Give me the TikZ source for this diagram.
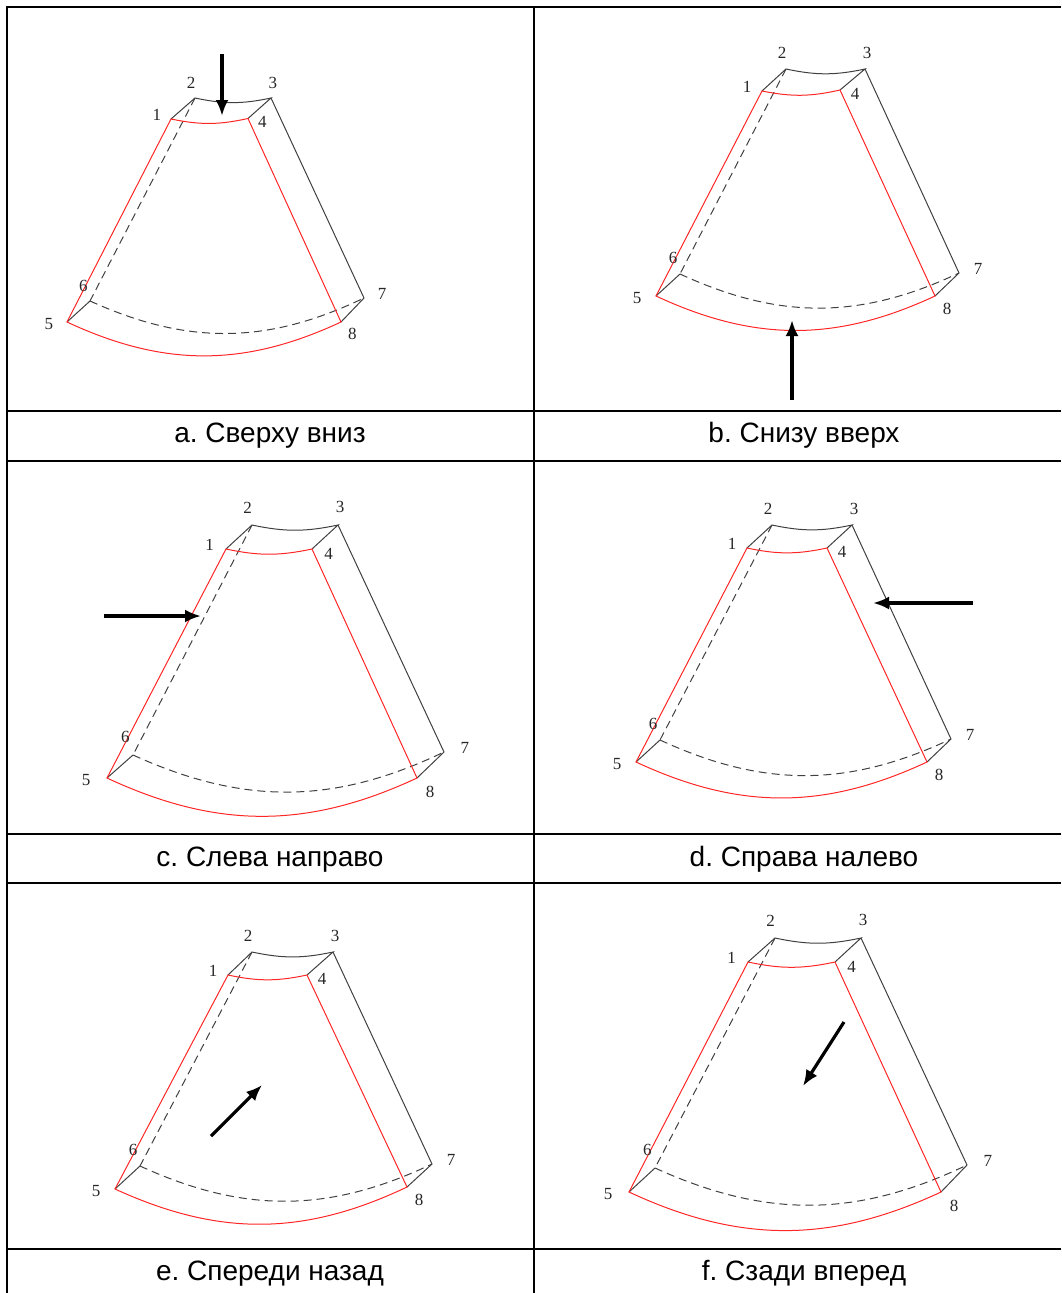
\documentclass[tikz,border=0pt]{standalone}
\usepackage{fontspec}
\setmainfont{Liberation Sans}
\newfontfamily\digitfont{Liberation Serif}
\frenchspacing
\usetikzlibrary{calc, arrows.meta}
\tikzset{
	frame/.style={line width=1.8pt},
	backline/.style={line width=1pt, black!75},
	frontline/.style={line width=1pt, red!85!white},
	hidden/.style={line width=1pt, black!75, dash pattern=on 8pt off 5pt},
	beam/.style={-{Latex[length=16pt,width=13pt]}, line width=3.2pt},
	caption/.style={font=\fontsize{28}{30}\selectfont, anchor=base},
	corner/.style={font=\digitfont\fontsize{17}{18}\selectfont, text=black!85, inner sep=0pt}
}
% name, then corners 1 to 8
\newcommand{\sector}[9]{
	\coordinate (#11) at (#2);
	\coordinate (#12) at (#3);
	\coordinate (#13) at (#4);
	\coordinate (#14) at (#5);
	\coordinate (#15) at (#6);
	\coordinate (#16) at (#7);
	\coordinate (#17) at (#8);
	\coordinate (#18) at (#9);
	% Hidden edges
	\draw[hidden] (#12) -- (#16);
	\draw[hidden] (#16) to[bend right=25] (#17);
	% Back edges
	\draw[backline] (#11) -- (#12) to[bend right=12] (#13) -- (#14);
	\draw[backline] (#13) -- (#17) -- (#18);
	\draw[backline] (#15) -- (#16);
	% Front face
	\draw[frontline] (#11) to[bend right=12] (#14) -- (#18) to[bend left=25] (#15) -- cycle;
	% Corner labels
	\node[corner] (#1n1) at ($(#11)+\gap*(-15,-4)$) {1};
	\node[corner] (#1n2) at ($(#12)+\gap*(-4,-16)$) {2};
	\node[corner] (#1n3) at ($(#13)+\gap*(2,-16)$) {3};
	\node[corner] (#1n4) at ($(#14)+\gap*(15,4)$) {4};
	\node[corner] (#1n5) at ($(#15)+\gap*(-19,2)$) {5};
	\node[corner] (#1n6) at ($(#16)+\gap*(-7,-16)$) {6};
	\node[corner] (#1n7) at ($(#17)+\gap*(19,-4)$) {7};
	\node[corner] (#1n8) at ($(#18)+\gap*(12,13)$) {8};
}
\begin{document}
\begin{tikzpicture}[x=1pt, y=-1pt]
	
	\useasboundingbox (0,0) rectangle (1061,1293);
	
	% Table
	\coordinate (TL) at (7,7);
	\coordinate (TM) at (534,7);
	\coordinate (TR) at (1061,7);
	\coordinate (BL) at (7,1293);
	\coordinate (BM) at (534,1293);
	\draw[frame] (TR) -- (TL) -- (BL);
	\draw[frame] (TM) -- (BM);
	\foreach \rowy in {411,461,834,883,1249}
		\draw[frame] (7,\rowy) -- (1061,\rowy);
	
	% Captions
	\node[caption] (capa) at (270,442) {a. Сверху вниз};
	\node[caption] (capb) at (804,442) {b. Снизу вверх};
	\node[caption] (capc) at (270,866) {c. Слева направо};
	\node[caption] (capd) at (804,866) {d. Справа налево};
	\node[caption] (cape) at (270,1280) {e. Спереди назад};
	\node[caption] (capf) at (804,1280) {f. Сзади вперед};
	
	% Sectors
	\def\gap{0.95}
	\sector{a}{171,119}{195,98}{271,98}{248,118.5}{67,322}{90,301}{364,298}{341,322}
	\def\gap{1.0}
	\sector{b}{762,91}{786,69}{865,69}{840,90}{656,296}{680,274}{959,273}{935,296}
	\def\gap{1.1}
	\sector{c}{226,549}{252,525}{338,525}{312,549}{107,778}{133,755}{444,752}{417,778}
	\def\gap{1.0}
	\sector{d}{747,548}{772,525}{852,525}{827,548}{636,762}{660,740}{951,739}{927,762}
	\sector{e}{228,975}{252,952}{333,952}{307,975}{115,1189}{140,1166}{432,1164}{407,1187}
	\def\gap{1.1}
	\sector{f}{748,962}{775,938}{861,938}{835,962}{629,1192}{655,1168}{967,1165}{941,1192}
	
	% Arrows
	\coordinate (as) at (222,54);
	\coordinate (at) at (222,116);
	\coordinate (bs) at (792,400);
	\coordinate (bt) at (792,320);
	\coordinate (cs) at (104,616);
	\coordinate (ct) at (201,616);
	\coordinate (ds) at (973,603);
	\coordinate (dt) at (873,603);
	\coordinate (es) at (211,1136);
	\coordinate (et) at (262,1085);
	\coordinate (fs) at (844,1022);
	\coordinate (ft) at (803,1086);
	\draw[beam] (as) -- (at);
	\draw[beam] (bs) -- (bt);
	\draw[beam] (cs) -- (ct);
	\draw[beam] (ds) -- (dt);
	\draw[beam] (es) -- (et);
	\draw[beam] (fs) -- (ft);
	
\end{tikzpicture}
\end{document}
